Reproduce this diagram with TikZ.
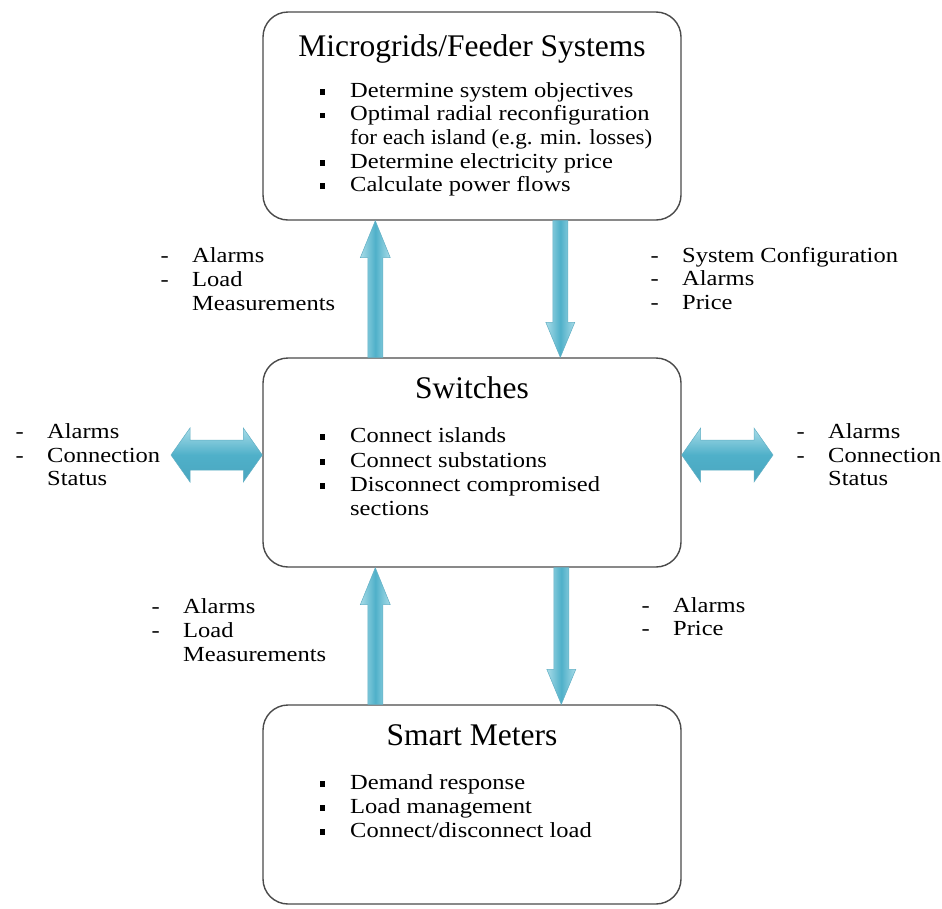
\documentclass[tikz,border=0pt]{standalone}
\usepackage{fontspec}
\setmainfont{Liberation Serif}
\newfontfamily\bodyfont[FakeStretch=1.14]{Liberation Serif}
\usetikzlibrary{calc}

\definecolor{arrowlight}{HTML}{A8DCE8}
\definecolor{arrowmid}{HTML}{4FB0C9}
\definecolor{arrowdark}{HTML}{4AA6BF}
\definecolor{arrowedge}{HTML}{62B0C5}
\definecolor{boxline}{HTML}{4A4A4A}
\definecolor{ink}{HTML}{000000}

\tikzset{
  box/.style={draw=boxline, line width=1.4pt, rounded corners=25pt, fill=white,
    minimum width=418pt, inner sep=0pt},
  boxtitle/.style={anchor=base, inner sep=0pt, text=ink,
    font=\fontsize{31.5}{36}\selectfont},
  txt/.style={anchor=base west, inner sep=0pt, text=ink,
    font=\bodyfont\fontsize{21.5}{24}\selectfont},
  vshade/.style={left color=arrowlight, right color=arrowlight, middle color=arrowmid,
    draw=arrowedge, line width=0.5pt},
  hshade/.style={top color=arrowlight, bottom color=arrowdark, middle color=arrowmid,
    draw=arrowedge, line width=0.5pt},
}

% bullet square and dash hung to the left of a text line
\newcommand\bul{\llap{\rule[2.5pt]{5.5pt}{5.5pt}\hspace{25pt}}}
\newcommand\dsh{\llap{-\hspace{23.5pt}}}

% block arrow pointing up from box #1 to box #2, #3 = offset from the west side
\newcommand\blockup[3]{%
  \path[vshade] let \p1=($(#1.north west)+(#3,0)$), \p2=($(#2.south west)+(#3,0)$) in
    (\x1-7.5pt,\y1) -- (\x1+7.5pt,\y1) -- (\x1+7.5pt,\y2-37pt) -- (\x1+15pt,\y2-37pt)
    -- (\x1,\y2) -- (\x1-15pt,\y2-37pt) -- (\x1-7.5pt,\y2-37pt) -- cycle;}
% block arrow pointing down from box #1 to box #2
\newcommand\blockdown[3]{%
  \path[vshade] let \p1=($(#1.south west)+(#3,0)$), \p2=($(#2.north west)+(#3,0)$) in
    (\x1-7.5pt,\y1) -- (\x1+7.5pt,\y1) -- (\x1+7.5pt,\y2+35pt) -- (\x1+14.5pt,\y2+35pt)
    -- (\x1,\y2) -- (\x1-14.5pt,\y2+35pt) -- (\x1-7.5pt,\y2+35pt) -- cycle;}
% horizontal double-headed block arrow between two points
\newcommand\blockboth[2]{%
  \path[hshade] let \p1=(#1), \p2=(#2) in
    (\x1,\y1) -- (\x1+19pt,\y1+27pt) -- (\x1+19pt,\y1+15pt) -- (\x2-19pt,\y1+15pt)
    -- (\x2-19pt,\y1+27pt) -- (\x2,\y1) -- (\x2-19pt,\y1-27pt) -- (\x2-19pt,\y1-15pt)
    -- (\x1+19pt,\y1-15pt) -- (\x1+19pt,\y1-27pt) -- cycle;}

\begin{document}
\begin{tikzpicture}[x=1pt, y=-1pt]
\useasboundingbox[fill=white] (0,0) rectangle (942,908);

% the three boxes
\node[box, minimum height=208pt] (mg)  at (472,116)   {};
\node[box, minimum height=209pt] (sw)  at (472,462.5) {};
\node[box, minimum height=199pt] (sm)  at (472,804.5) {};

% vertical arrows
\blockup{sw}{mg}{113}
\blockdown{mg}{sw}{298}
\blockup{sm}{sw}{113}
\blockdown{sw}{sm}{299}

% horizontal arrows on both sides of the switches box
\coordinate (lend) at (171,455);
\coordinate (rend) at (773,455);
\blockboth{lend}{$(sw.west)+(0,-7.5)$}
\blockboth{$(sw.east)+(0,-7.5)$}{rend}

% Microgrids / Feeder Systems
\node[boxtitle] (mgt) at (472,56) {Microgrids/Feeder Systems};
\node[txt] (mg1) at (350,97)    {\bul Determine system objectives};
\node[txt] (mg2) at (350,120.5) {\bul Optimal radial reconfiguration};
\node[txt] (mg3) at (350,144)   {\scalebox{0.94}[1]{for each island (e.g. min. losses)}};
\node[txt] (mg4) at (350,168)   {\bul Determine electricity price};
\node[txt] (mg5) at (350,191)   {\bul Calculate power flows};

% Switches
\node[boxtitle] (swt) at (472,398) {Switches};
\node[txt] (sw1) at (350,442) {\bul Connect islands};
\node[txt] (sw2) at (350,467) {\bul Connect substations};
\node[txt] (sw3) at (350,491) {\bul Disconnect compromised};
\node[txt] (sw4) at (350,515) {sections};

% Smart Meters
\node[boxtitle] (smt) at (472,745) {Smart Meters};
\node[txt] (sm1) at (350,789) {\bul Demand response};
\node[txt] (sm2) at (350,813) {\bul Load management};
\node[txt] (sm3) at (350,837) {\bul Connect/disconnect load};

% messages, upper level
\node[txt] (ul1) at (192,262) {\dsh Alarms};
\node[txt] (ul2) at (192,286) {\dsh Load};
\node[txt] (ul3) at (192,310) {Measurements};
\node[txt] (ur1) at (682,262) {\dsh System Configuration};
\node[txt] (ur2) at (682,285) {\dsh Alarms};
\node[txt] (ur3) at (682,309) {\dsh Price};

% messages, sides of the switches
\node[txt] (sl1) at (47,438)  {\dsh Alarms};
\node[txt] (sl2) at (47,462)  {\dsh Connection};
\node[txt] (sl3) at (47,485)  {Status};
\node[txt] (sr1) at (828,438) {\dsh Alarms};
\node[txt] (sr2) at (828,462) {\dsh Connection};
\node[txt] (sr3) at (828,485) {Status};

% messages, lower level
\node[txt] (ll1) at (183,613) {\dsh Alarms};
\node[txt] (ll2) at (183,637) {\dsh Load};
\node[txt] (ll3) at (183,661) {Measurements};
\node[txt] (lr1) at (673,612) {\dsh Alarms};
\node[txt] (lr2) at (673,635) {\dsh Price};
\end{tikzpicture}
\end{document}
